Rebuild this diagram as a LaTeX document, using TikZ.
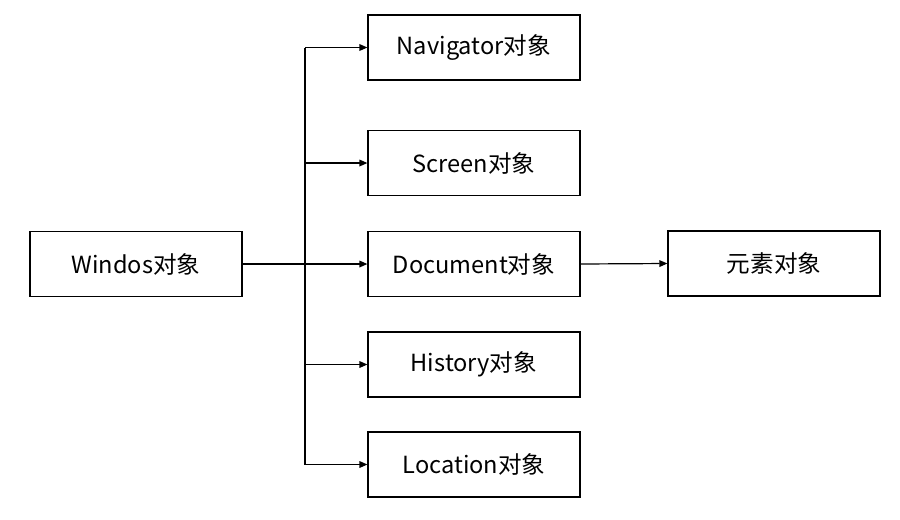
\documentclass[tikz,border=0pt]{standalone}
\usepackage{fontspec}
\setmainfont{Noto Sans CJK SC}
\usetikzlibrary{arrows.meta}
\begin{document}
\begin{tikzpicture}[x=0.75pt,y=-0.75pt,
  box/.style={draw=black,line width=0.9pt,minimum width=159pt,minimum height=48.75pt,inner sep=0pt,font=\fontsize{17.7}{21}\selectfont},
  conn/.style={line width=0.9pt,-{Triangle[length=6pt,width=5pt]}}]
\useasboundingbox (0,0) rectangle (900,519);
\node[box] (win) at (136,264) {Windos对象};
\node[box] (nav) at (474,47.5) {Navigator对象};
\node[box] (scr) at (474,163) {Screen对象};
\node[box] (doc) at (474,264) {Document对象};
\node[box] (his) at (474,364.5) {History对象};
\node[box] (loc) at (474,464.5) {Location对象};
\node[box] (ele) at (774,263.5) {元素对象};
\coordinate (top) at (305,47.5);
\coordinate (bot) at (305,464.5);
\draw[line width=0.9pt] (top) -- (bot);
\draw[line width=1.8pt] (win.east) -- (305,264);
\draw[conn] (top) -- (nav.west);
\draw[conn] (305,163) -- (scr.west);
\draw[conn] (305,264) -- (doc.west);
\draw[conn] (305,364.5) -- (his.west);
\draw[conn] (bot) -- (loc.west);
\draw[conn] (doc.east) -- (ele.west);
\end{tikzpicture}
\end{document}
